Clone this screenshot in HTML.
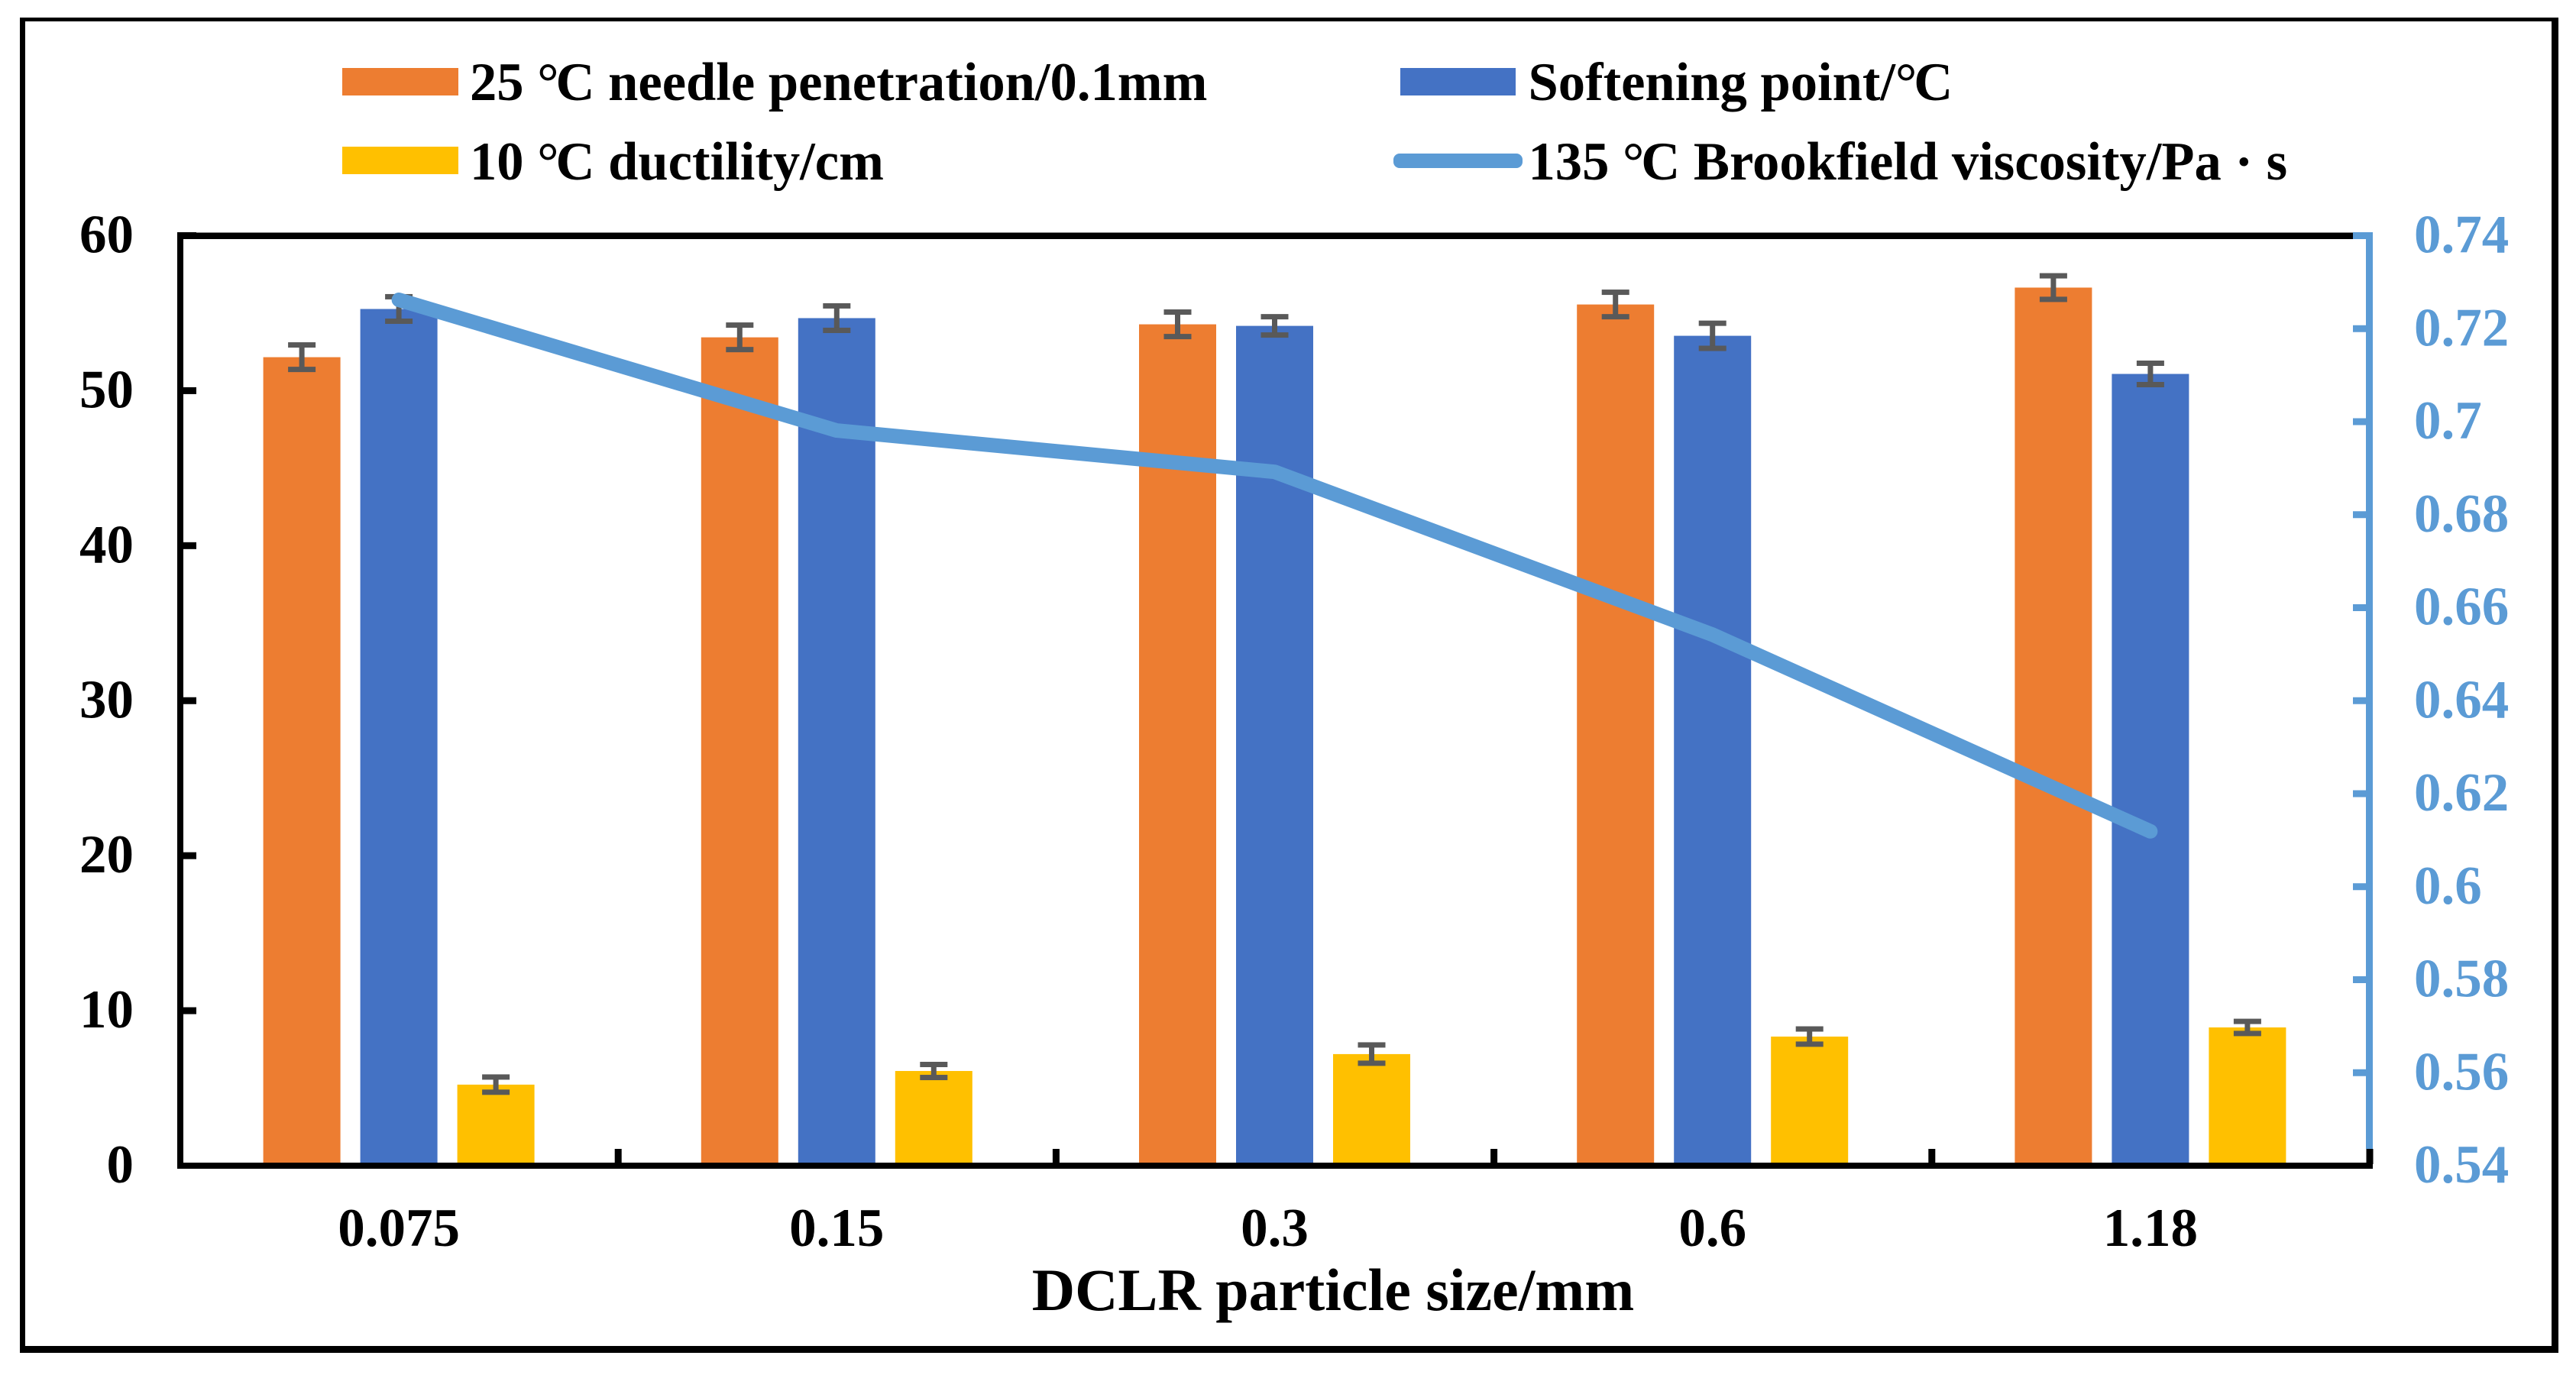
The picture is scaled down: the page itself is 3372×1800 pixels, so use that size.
<!DOCTYPE html>
<html lang="en">
<head>
<meta charset="utf-8">
<title>DCLR particle size chart</title>
<style>
html,body{margin:0;padding:0;background:#fff;width:3372px;height:1800px;overflow:hidden}
svg{display:block}
text{font-family:"Liberation Serif",serif;font-weight:bold;fill:#000}
</style>
</head>
<body>
<svg id="chart" xmlns="http://www.w3.org/2000/svg" width="3372" height="1800" viewBox="0 0 3372 1800">
  <rect x="0" y="0" width="3372" height="1800" fill="#fff"/>
  <g fill="#000">
    <rect x="26" y="23" width="3323" height="5"/>
    <rect x="26" y="23" width="7" height="1748"/>
    <rect x="3340" y="23" width="9" height="1748"/>
    <rect x="26" y="1762" width="3323" height="9"/>
  </g>
  <g id="bars"></g>
  <g id="errors"></g>
  <g id="axes"></g>
  <path id="viscosity" fill="none" stroke="#5B9BD5" stroke-width="19" stroke-linecap="round" stroke-linejoin="round"/>
  <g id="labels"></g>
  <text x="1745" y="1715" font-size="78" text-anchor="middle">DCLR particle size/mm</text>
  <g>
    <g>
      <rect x="448" y="89" width="152" height="36" fill="#ED7D31"/>
      <text x="615" y="131" font-size="70.6">25 °<tspan dx="-4">C</tspan> needle penetration/0.1mm</text>
    </g>
    <g>
      <rect x="1833" y="89" width="151" height="36" fill="#4472C4"/>
      <text x="2000.5" y="131" font-size="70.6">Softening point/°<tspan dx="-4">C</tspan></text>
    </g>
    <g>
      <rect x="448" y="192" width="152" height="36" fill="#FFC000"/>
      <text x="615" y="235" font-size="70.6">10 °<tspan dx="-4">C</tspan> ductility/cm</text>
    </g>
    <g>
      <rect x="1824" y="201" width="169" height="19" rx="8" ry="8" fill="#5B9BD5"/>
      <text x="2000.5" y="235" font-size="70.6">135 °<tspan dx="-4">C</tspan> Brookfield viscosity/Pa · s</text>
    </g>
  </g>
</svg>
<script>
const categories = ["0.075", "0.15", "0.3", "0.6", "1.18"];
const penetration = [52.16, 53.44, 54.28, 55.56, 56.65];
const penetrationErr = [0.79, 0.79, 0.79, 0.79, 0.76];
const softening = [55.27, 54.68, 54.18, 53.54, 51.08];
const softeningErr = [0.79, 0.79, 0.59, 0.81, 0.69];
const ductility = [5.23, 6.11, 7.2, 8.33, 8.92];
const ductilityErr = [0.49, 0.42, 0.59, 0.49, 0.39];
const viscosity = [0.7262, 0.6981, 0.6892, 0.6542, 0.6119];
const leftTicks = ["0", "10", "20", "30", "40", "50", "60"];
const rightTicks = ["0.54", "0.56", "0.58", "0.6", "0.62", "0.64", "0.66", "0.68", "0.7", "0.72", "0.74"];

const NS = "http://www.w3.org/2000/svg";
const plotLeft = 235.5, plotRight = 3101.5, plotTop = 308.5, plotBottom = 1526;
const band = (plotRight - plotLeft) / categories.length;
const barW = 101, barStep = 127;

function xCenter(i) { return plotLeft + band * (i + 0.5); }
function yLeft(v) { return plotBottom - (v / 60) * (plotBottom - plotTop); }
function yRight(v) { return plotBottom - ((v - 0.54) / 0.2) * (plotBottom - plotTop); }

function make(parent, tag, attrs) {
  const el = document.createElementNS(NS, tag);
  for (const k in attrs) el.setAttribute(k, attrs[k]);
  parent.appendChild(el);
  return el;
}

const barsG = document.getElementById("bars");
const errG = document.getElementById("errors");
const axesG = document.getElementById("axes");
const labelsG = document.getElementById("labels");

const seriesList = [
  { key: "penetration", vals: penetration, errs: penetrationErr, color: "#ED7D31", off: -1 },
  { key: "softening", vals: softening, errs: softeningErr, color: "#4472C4", off: 0 },
  { key: "ductility", vals: ductility, errs: ductilityErr, color: "#FFC000", off: 1 }
];

seriesList.forEach(function (s) {
  s.vals.forEach(function (v, i) {
    const cx = xCenter(i) + s.off * barStep;
    const top = yLeft(v);
    const bar = make(barsG, "rect", { x: cx - barW / 2, y: top, width: barW, height: plotBottom - top, fill: s.color });
    
    

    const hi = yLeft(v + s.errs[i]);
    const lo = yLeft(v - s.errs[i]);
    const stem = make(errG, "rect", { x: cx - 3.5, y: hi, width: 7, height: lo - hi, fill: "#595959" });
    
    
    const capTop = make(errG, "rect", { x: cx - 18, y: hi - 3.5, width: 36, height: 7, fill: "#595959" });
    
    
    const capBottom = make(errG, "rect", { x: cx - 18, y: lo - 3.5, width: 36, height: 7, fill: "#595959" });
    
    
  });
});

document.getElementById("viscosity").setAttribute("d",
  viscosity.map(function (v, i) { return (i ? "L" : "M") + xCenter(i).toFixed(1) + " " + yRight(v).toFixed(1); }).join(" "));

/* right axis (blue) */
const rightLine = make(axesG, "rect", { x: 3097, y: 305, width: 9, height: 1199, fill: "#5B9BD5" });



/* black frame of plot */
const topLine = make(axesG, "rect", { x: 232, y: 304.5, width: 2848, height: 8.5, fill: "#000" });


const leftLine = make(axesG, "rect", { x: 232, y: 304.5, width: 8, height: 1225.5, fill: "#000" });


const bottomLine = make(axesG, "rect", { x: 232, y: 1522, width: 2874, height: 8, fill: "#000" });



/* left ticks and labels */
leftTicks.forEach(function (t) {
  const y = yLeft(parseFloat(t));
  if (parseFloat(t) > 0) {
    const tick = make(axesG, "rect", { x: 232, y: y - 4.5, width: 25, height: 9, fill: "#000" });
    
    
  }
  const lab = make(labelsG, "text", { x: 175, y: y + 22, "font-size": 71, "text-anchor": "end" });
  lab.textContent = t;
  
  
});

/* right ticks and labels */
rightTicks.forEach(function (t) {
  const y = yRight(parseFloat(t));
  if (parseFloat(t) > 0.54) {
    const tick = make(axesG, "rect", { x: 3080, y: y - 4.5, width: 26, height: 9, fill: "#5B9BD5" });
    
    
  }
  const lab = make(labelsG, "text", { x: 3160, y: y + 22, "font-size": 71, style: "fill:#5B9BD5" });
  lab.textContent = t;
  
  
});

/* category ticks and labels */
for (let i = 1; i <= categories.length; i++) {
  const tx = plotLeft + band * i;
  const tick = make(axesG, "rect", { x: tx - 4, y: 1504, width: 9, height: 20, fill: "#000" });
  
  
}
categories.forEach(function (c, i) {
  const lab = make(labelsG, "text", { x: xCenter(i), y: 1631, "font-size": 71, "text-anchor": "middle" });
  lab.textContent = c;
  
  
});
</script>
</body>
</html>
